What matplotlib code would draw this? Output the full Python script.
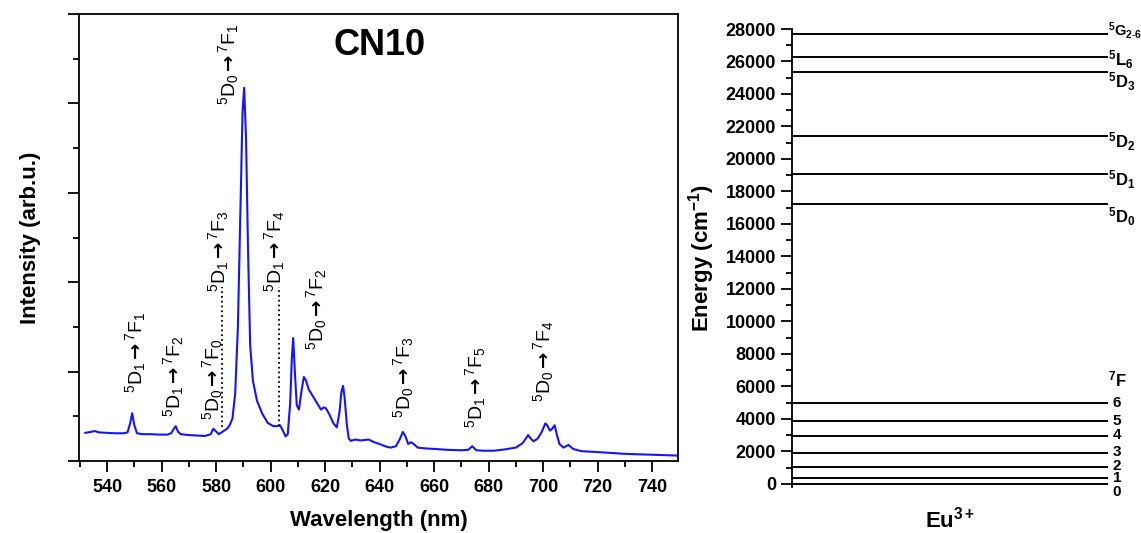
import matplotlib
matplotlib.use("Agg")
import matplotlib.pyplot as plt

plt.rcParams['font.family'] = ['Liberation Sans', 'DejaVu Sans']
plt.rcParams['mathtext.fontset'] = 'custom'
plt.rcParams['mathtext.rm'] = 'Liberation Sans'
plt.rcParams['mathtext.bf'] = 'Liberation Sans:bold'
plt.rcParams['mathtext.it'] = 'Liberation Sans:italic'
plt.rcParams['mathtext.sf'] = 'DejaVu Sans:bold'   # used only for the heavier arrow

# emission spectrum (intensity in arb. units, 0..10 scale)
wavelength = [532, 534, 535.5, 537, 540, 543, 546, 547.5, 548.5, 549.2, 550, 551, 553, 556, 559,
              562, 563.5, 564.5, 565.2, 566, 567, 570, 573, 576, 578, 579, 580, 581, 582, 583,
              584, 585, 586, 587, 588, 589, 589.7, 590.3, 591, 591.7, 592.5, 593.5, 595, 597,
              599, 601, 602.5, 603.5, 604.5, 605.5, 606.3, 607.2, 607.8, 608.3, 608.9, 609.6,
              610.4, 611.3, 612.2, 613, 614, 615.5, 617, 618.5, 619.5, 620.3, 621.5, 623, 624.3,
              625.3, 626, 626.6, 627.2, 628, 628.7, 629.5, 631, 633, 636, 638, 640, 642, 644,
              646, 647.5, 648.5, 649.5, 650.5, 651.5, 652.5, 654, 657, 660, 665, 670, 672.5,
              674, 675.5, 678, 682, 686, 690, 692.5, 694.5, 695.5, 696.5, 698, 699.5, 700.8,
              701.5, 702.5, 703.3, 704.2, 705, 706, 707.5, 709.3, 711, 714, 720, 730, 740, 750]
intensity = [0.63, 0.65, 0.67, 0.64, 0.63, 0.62, 0.62, 0.64, 0.85, 1.07, 0.8, 0.62, 0.6, 0.6, 0.59,
             0.59, 0.62, 0.72, 0.78, 0.66, 0.6, 0.58, 0.57, 0.56, 0.6, 0.72, 0.66, 0.6, 0.64, 0.68,
             0.72, 0.8, 0.95, 1.5, 3.0, 5.8, 7.8, 8.35, 7.2, 4.8, 2.6, 1.8, 1.35, 1.05,
             0.85, 0.78, 0.78, 0.8, 0.68, 0.55, 0.6, 1.3, 2.3, 2.75, 2.0, 1.25,
             1.15, 1.55, 1.88, 1.8, 1.6, 1.45, 1.3, 1.15, 1.2, 1.18, 1.05, 0.85, 0.75,
             1.1, 1.55, 1.68, 1.4, 0.8, 0.5, 0.45, 0.48, 0.46, 0.48, 0.42, 0.38, 0.33, 0.3,
             0.33, 0.5, 0.65, 0.55, 0.38, 0.42, 0.38, 0.3, 0.28, 0.27, 0.25, 0.24, 0.25,
             0.33, 0.24, 0.23, 0.23, 0.26, 0.3, 0.4, 0.58, 0.5, 0.44, 0.5, 0.65, 0.84,
             0.8, 0.68, 0.72, 0.8, 0.6, 0.38, 0.3, 0.36, 0.27, 0.22, 0.2, 0.16, 0.14, 0.12]

# transition labels: upper / lower J, x centre, y bottom
trans_up = ['1', '1', '0', '1', '1', '0', '0', '0', '1', '0']
trans_low = ['1', '2', '0', '3', '4', '1', '2', '3', '5', '4']
trans_x = [550.3, 564.5, 578.8, 581, 601.5, 584.7, 617, 648.8, 675.2, 700]
trans_y = [1.52, 0.98, 0.92, 3.78, 3.78, 7.96, 2.48, 0.96, 0.74, 1.32]

dotted_x = [582.3, 603]
dotted_lo = [0.76, 0.78]
dotted_hi = [3.9, 3.9]

# Eu3+ energy levels (cm-1)
upper_levels = [17250, 19050, 21420, 25350, 26300, 27670]
upper_names = [r'$^{\mathbf{5}}$D$_{\mathbf{0}}$', r'$^{\mathbf{5}}$D$_{\mathbf{1}}$',
               r'$^{\mathbf{5}}$D$_{\mathbf{2}}$', r'$^{\mathbf{5}}$D$_{\mathbf{3}}$',
               r'$^{\mathbf{5}}$L$_{\mathbf{6}}$', r'$^{\mathbf{5}}$G$_{\mathbf{2\text{-}6}}$']
upper_label_y = [16430, 18710, 21050, 24740, 26090, 27880]
lower_levels = [0, 350, 1050, 1900, 2950, 3880, 4950]
lower_names = ['0', '1', '2', '3', '4', '5', '6']
lower_label_y = [-480, 330, 1110, 1970, 3015, 3880, 4985]

fig = plt.figure(figsize=(11.41, 5.33), dpi=100)

# ---- left: spectrum ----
ax = fig.add_axes([79 / 1141, 72 / 533, 599 / 1141, 447 / 533])
ax.plot(wavelength, intensity, color='#1414ff', lw=1.5)
ax.set_xlim(529.7, 749.5)
ax.set_ylim(0, 10)
ax.set_xticks(range(540, 741, 20))
ax.set_xticks(range(530, 750, 10), minor=True)
ax.set_yticks(range(0, 11, 2))
ax.set_yticks(range(1, 10, 2), minor=True)
ax.set_yticklabels([])
ax.tick_params(which='major', length=8, width=1.3, direction='out')
ax.tick_params(which='minor', length=4, width=1.3, direction='out')
ax.tick_params(axis='x', labelsize=13, pad=5)
for lab in ax.get_xticklabels():
    lab.set_fontweight('bold')
for s in ax.spines.values():
    s.set_linewidth(1.3)
ax.set_xlabel('Wavelength (nm)', fontsize=16, fontweight='bold', labelpad=10)
ax.set_ylabel('Intensity (arb.u.)', fontsize=16, fontweight='bold', labelpad=16)

for up, low, x, y in zip(trans_up, trans_low, trans_x, trans_y):
    label = r'$^5$D$_{%s}\,\mathsf{→}\,{}^{7}$F$_{%s}$' % (up, low)
    ax.text(x, y, label, rotation=90, ha='center', va='bottom', fontsize=14)
for x, lo, hi in zip(dotted_x, dotted_lo, dotted_hi):
    ax.plot([x, x], [lo, hi], ls=':', color='black', lw=1.3)

ax.text(640, 9.3, 'CN10', fontsize=26, fontweight='bold', ha='center', va='center')

# ---- right: energy level diagram ----
ax2 = fig.add_axes([792 / 1141, 46 / 533, 316 / 1141, 458 / 533])
ax2.hlines(upper_levels + lower_levels, 0, 1, color='black', lw=1.4)
ax2.set_xlim(0, 1)
ax2.set_ylim(-200, 28000)
ax2.set_xticks([])
ax2.set_yticks(range(0, 28001, 2000))
ax2.set_yticks(range(1000, 28000, 2000), minor=True)
ax2.tick_params(which='major', length=8, width=1.3, direction='out', labelsize=13)
ax2.tick_params(which='minor', length=4, width=1.3, direction='out')
for lab in ax2.get_yticklabels():
    lab.set_fontweight('bold')
for side in ['top', 'right', 'bottom']:
    ax2.spines[side].set_visible(False)
ax2.spines['left'].set_linewidth(1.3)
ax2.set_ylabel(r'Energy (cm$^{\mathbf{-1}}$)', fontsize=16, fontweight='bold', labelpad=6)
ax2.set_xlabel(r'Eu$^{\mathbf{3+}}$', fontsize=16, fontweight='bold', labelpad=14)

for name, y in zip(upper_names, upper_label_y):
    size = 10.5 if 'G' in name else 12
    ax2.text(1.0, y, name, ha='left', va='center', fontsize=size, fontweight='bold', clip_on=False)
for name, y in zip(lower_names, lower_label_y):
    ax2.text(1.028, y, name, ha='center', va='center', fontsize=11, fontweight='bold', clip_on=False)
ax2.text(1.0, 6400, r'$^{\mathbf{7}}$F', ha='left', va='center', fontsize=12, fontweight='bold',
         clip_on=False)

fig.savefig('out.png', dpi=100)
